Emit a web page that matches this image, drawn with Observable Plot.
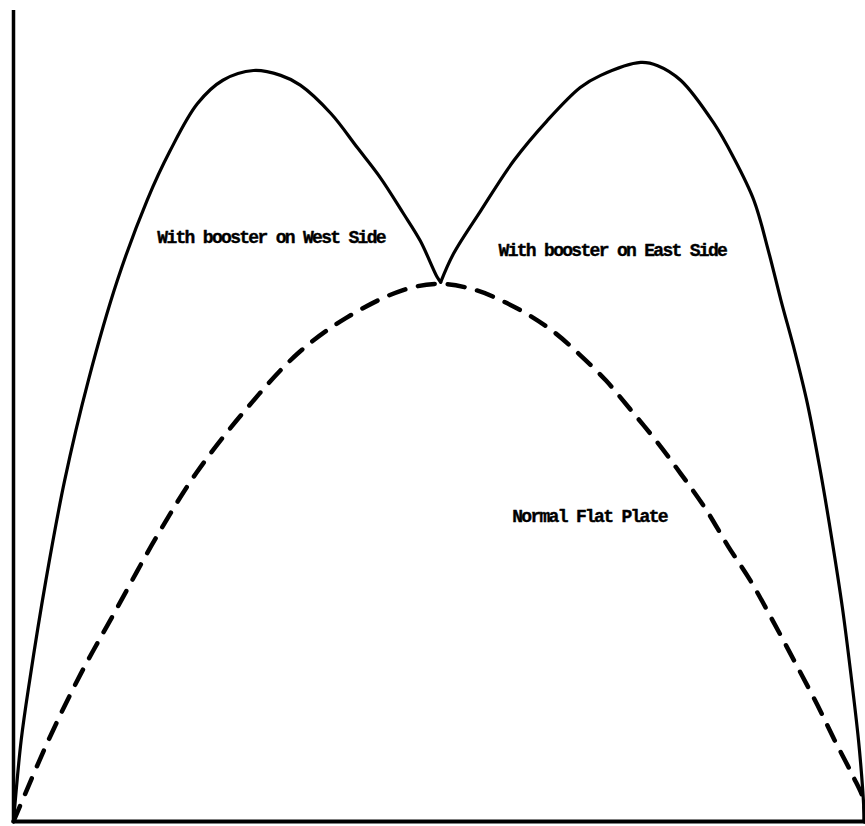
<!DOCTYPE html>
<html>
<head>
<meta charset="utf-8">
<script src="https://cdn.jsdelivr.net/npm/d3@7"></script>
<script src="https://cdn.jsdelivr.net/npm/@observablehq/plot@0.6"></script>
<style>
  html, body { margin: 0; padding: 0; background: #fff; }
  #chart svg { display: block; }
  #chart svg text { font-family: "Liberation Mono", "DejaVu Sans Mono", monospace !important; font-weight: bold; letter-spacing: -1.7px; }
</style>
</head>
<body>
<div id="chart"></div>
<script>
// Relative position across the plate (0–100) and relative output (0–100)
const westX = [0, 0.9, 1.9, 3.8, 6.0, 8.8, 12.2, 15.7, 18.4, 21.6, 24.6, 28.2, 31.4, 33.7, 37.3, 40.4, 43.1, 45.8, 47.8, 49.8, 50.2];
const westY = [0, 10.0, 17.4, 29.7, 42.0, 54.4, 66.7, 76.6, 82.7, 88.5, 91.4, 92.6, 92.0, 90.8, 87.3, 83.1, 79.4, 75.0, 71.6, 67.1, 66.5];

const eastX = [50.2, 51.7, 54.9, 58.8, 62.7, 66.6, 69.0, 73.7, 75.7, 78.4, 82.3, 84.6, 87.0, 88.7, 90.2, 91.8, 93.3, 94.8, 96.2, 97.4, 98.4, 99.3, 99.8, 100];
const eastY = [66.5, 70.0, 75.3, 81.5, 86.4, 90.5, 92.0, 93.6, 93.2, 91.4, 86.1, 81.9, 76.6, 70.4, 64.2, 58.0, 51.5, 43.3, 34.6, 26.4, 18.2, 10.0, 3.8, 0];

const flatX = [0, 4.1, 7.9, 12.0, 16.7, 21.5, 27.3, 33.4, 39.1, 45.7, 50.2, 54.4, 57.6, 60.8, 63.7, 66.4, 69.6, 72.5, 75.7, 78.4, 81.3, 84.0, 86.6, 89.2, 91.9, 94.5, 96.5, 98.6, 99.9, 100];
const flatY = [0, 10.0, 18.2, 26.0, 34.9, 43.0, 50.8, 57.7, 62.1, 65.5, 66.3, 65.5, 64.1, 62.3, 60.2, 57.7, 54.4, 50.8, 46.7, 42.9, 38.6, 33.9, 29.7, 24.8, 19.5, 14.3, 10.0, 5.7, 2.6, 0];

const labelText = ["With booster on West Side", "With booster on East Side", "Normal Flat Plate"];
const labelX = [16.9, 57.0, 58.6];
const labelY = [72.0, 70.4, 37.7];

const booster = [
  ...westX.map((x, i) => ({x, y: westY[i], side: "West"})),
  ...eastX.map((x, i) => ({x, y: eastY[i], side: "East"}))
];
const flat = flatX.map((x, i) => ({x, y: flatY[i]}));
const labels = labelText.map((t, i) => ({t, x: labelX[i], y: labelY[i]}));

const chart = Plot.plot({
  width: 865,
  height: 826,
  marginLeft: 13,
  marginRight: 0,
  marginTop: 10,
  marginBottom: 5,
  x: {domain: [0, 100.12], axis: null},
  y: {domain: [0, 100], axis: null},
  style: {background: "#fff", color: "#000"},
  marks: [
    Plot.ruleX([0], {y1: 0, y2: 100, stroke: "#000", strokeWidth: 3.5}),
    Plot.ruleY([0], {stroke: "#000", strokeWidth: 4}),
    Plot.line(flat, {x: "x", y: "y", stroke: "#000", strokeWidth: 4.5, strokeDasharray: "17,13", strokeLinecap: "round", curve: "catmull-rom"}),
    Plot.line(booster, {x: "x", y: "y", z: "side", stroke: "#000", strokeWidth: 3.2, curve: "catmull-rom"}),
    Plot.text(labels, {x: "x", y: "y", text: "t", textAnchor: "start", fill: "#000",
      stroke: "#000", strokeWidth: 0.4,
      fontFamily: "Liberation Mono", fontWeight: "bold", fontSize: 18})
  ]
});
document.getElementById("chart").appendChild(chart);
</script>
</body>
</html>
